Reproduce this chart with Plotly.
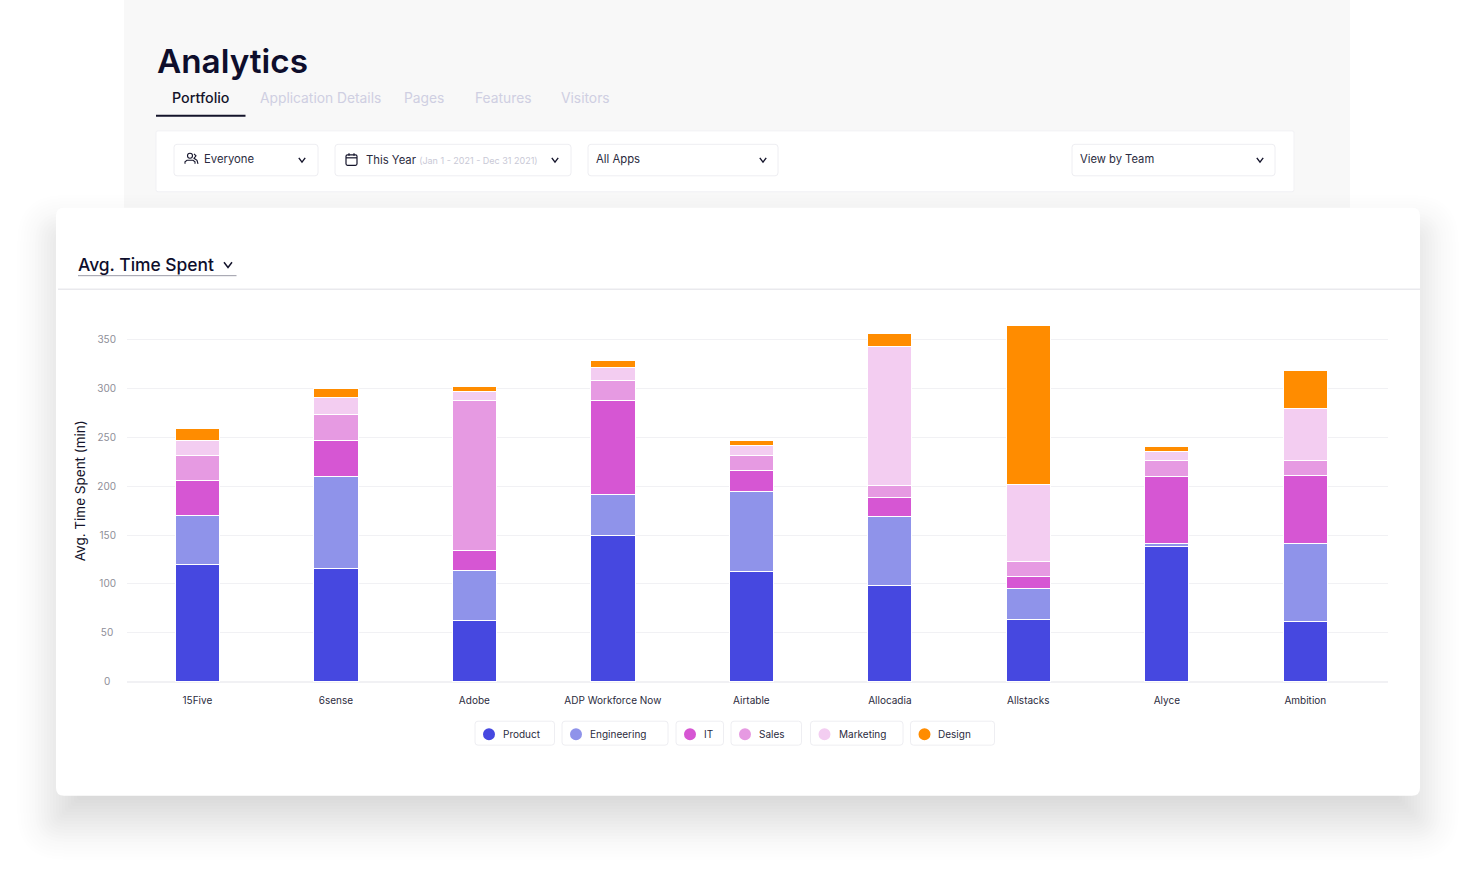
import math
import plotly.graph_objects as go

W, H = 1472, 879
PAPER_H = 874  # plotly keeps a 5px strip at the bottom of this page
apps = ["15Five", "6sense", "Adobe", "ADP Workforce Now", "Airtable", "Allocadia", "Allstacks", "Alyce", "Ambition"]
teams = ["Product", "Engineering", "IT", "Sales", "Marketing", "Design"]
colors = ["#4648E0", "#8F93EA", "#D656D3", "#E69AE2", "#F3CDF1", "#FF8C00"]
product = [119.5, 116, 63, 150, 113, 98.5, 63.5, 138.5, 62]
engineering = [50.5, 93.5, 50.5, 41.5, 81, 70.5, 32, 2.5, 79]
it = [36, 36.5, 20.5, 95.5, 21.5, 19, 12.5, 69, 69.5]
sales = [25, 27, 153, 21, 15.5, 13, 14.5, 16, 15.5]
marketing = [15, 17.5, 10, 13, 10, 141, 79, 9, 53]
design = [13, 9, 4.5, 7, 5, 13.5, 162, 5, 38.5]
series = [product, engineering, it, sales, marketing, design]
y_ticks = [0, 50, 100, 150, 200, 250, 300, 350]
# trailing no-break spaces centre the shorter labels, as in the reference
y_tick_labels = ["0\u00a0\u00a0", "50\u00a0", "100", "150", "200", "250", "300", "350"]
tabs = ["Portfolio", "Application Details", "Pages", "Features", "Visitors"]
FONT = "Inter"
INK = "#14142B"


def px(x):
    return x / W


def py(y):
    return 1 - y / PAPER_H


def rrect(x0, y0, x1, y1, r, fill, line=None, opacity=1, lw=1):
    X0, X1, Y0, Y1 = px(x0), px(x1), py(y0), py(y1)
    rx, ry = r / W, r / PAPER_H
    path = (f"M{X0+rx},{Y0} L{X1-rx},{Y0} Q{X1},{Y0} {X1},{Y0-ry} L{X1},{Y1+ry} Q{X1},{Y1} {X1-rx},{Y1} "
            f"L{X0+rx},{Y1} Q{X0},{Y1} {X0},{Y1+ry} L{X0},{Y0-ry} Q{X0},{Y0} {X0+rx},{Y0} Z")
    return dict(type="path", path=path, xref="paper", yref="paper", fillcolor=fill, opacity=opacity,
                line=dict(color=line or "rgba(0,0,0,0)", width=lw if line else 0), layer="below")


def seg(points, color, width=1.3, closed=False):
    d = "M" + " L".join(f"{px(x)},{py(y)}" for x, y in points) + (" Z" if closed else "")
    return dict(type="path", path=d, xref="paper", yref="paper",
                line=dict(color=color, width=width), layer="above")


def chevron(cx, cy, color=INK, s=3.2, width=1.4):
    return seg([(cx - s, cy - s * 0.6), (cx, cy + s * 0.7), (cx + s, cy - s * 0.6)], color, width)


def label(x, y, text, size=11, color=INK, anchor="left", weight=400, angle=0):
    return dict(x=px(x), y=py(y), xref="paper", yref="paper", text=text, showarrow=False, xanchor=anchor,
                yanchor="middle", textangle=angle, borderpad=0, borderwidth=0,
                font=dict(family=FONT, size=size, color=color, weight=weight))


shapes, annos = [], []
shapes.append(dict(type="rect", xref="paper", yref="paper", x0=px(124), x1=px(1350), y0=py(0), y1=py(240),
                   fillcolor="#F8F8F8", line=dict(width=0), layer="below"))
shapes.append(rrect(156, 131, 1294, 192, 2, "#FFFFFF", "#F1F1F4"))
for a, b in [(174, 318), (335, 571), (588, 778), (1072, 1275)]:
    shapes.append(rrect(a, 144.5, b, 176, 3, "#FFFFFF", "#EEEEF2"))
# soft card shadow: stacked translucent rounded rectangles
SIGMA, PEAK, STEP = 24, 0.175, 3
for g in range(63, -64, -STEP):
    a = PEAK * STEP * math.exp(-g * g / (2 * SIGMA * SIGMA)) / (SIGMA * math.sqrt(2 * math.pi))
    shapes.append(rrect(56 - g, 208 + 26 - g, 1420 + g, 796 + 26 + g, max(8 + g, 2), "#000000", opacity=a))
shapes.append(rrect(56, 208, 1420, 796.7, 8, "#FFFFFF"))
shapes.append(dict(type="line", xref="paper", yref="paper", x0=px(58), x1=px(1420), y0=py(289.5), y1=py(289.5),
                   line=dict(color="#DEDEE4", width=1), layer="below"))
shapes.append(dict(type="line", xref="paper", yref="paper", x0=px(78), x1=px(236.5), y0=py(276), y1=py(276),
                   line=dict(color="#9A9AA6", width=1), layer="below"))
shapes.append(dict(type="line", xref="paper", yref="paper", x0=px(156), x1=px(245.5), y0=py(116), y1=py(116),
                   line=dict(color=INK, width=2), layer="below"))

annos.append(label(157, 61.5, "Analytics", 33.3, "#0E0E2C", weight=600))
tab_x = [172, 259.5, 403.5, 475, 560.5]
for i, (t, x) in enumerate(zip(tabs, tab_x)):
    annos.append(label(x, 98, t, 14.3 if i == 0 else 13.8, INK if i == 0 else "#CFCFE2", weight=500 if i == 0 else 400))

annos.append(label(204, 159.5, "Everyone", 11.3, "#2B2B40"))
annos.append(label(365.5, 160, "This Year <span style='font-size:9px;color:#C9C9D6'>(Jan 1 - 2021 - Dec 31 2021)</span>", 11.3, "#2B2B40"))
annos.append(label(596, 159.5, "All Apps", 11.3, "#2B2B40"))
annos.append(label(1080, 159.5, "View by Team", 11.2, "#2B2B40"))
for cx, cy in [(302, 160), (555, 160), (763, 160), (1260, 160)]:
    shapes.append(chevron(cx, cy))
shapes.append(dict(type="circle", xref="paper", yref="paper", x0=px(187.5), x1=px(192.5), y0=py(153.5), y1=py(158.5),
                   line=dict(color=INK, width=1.1), layer="above"))
shapes.append(seg([(185, 164), (185, 162), (187, 160.5), (193, 160.5), (195, 162), (195, 164)], INK, 1.1))
shapes.append(seg([(194, 154), (196, 156), (194, 158.5), (197, 160.5), (198, 164)], INK, 1.1))
shapes.append(rrect(346, 155, 357, 165.5, 1.5, "rgba(0,0,0,0)", INK, lw=1.2) | {"layer": "above"})
shapes.append(seg([(346, 158), (357, 158)], INK, 1.2))
shapes.append(seg([(349, 153.5), (349, 156)], INK, 1.2))
shapes.append(seg([(354, 153.5), (354, 156)], INK, 1.2))

annos.append(label(78, 264.5, "Avg. Time Spent", 17.4, "#0E0E2C", weight=500))
shapes.append(chevron(228, 265, INK, 4, 1.5))

chips = [(475, 554.5), (562, 668), (676, 723.5), (731, 801.5), (810.5, 903), (910.5, 994.5)]
for name, col, (a, b) in zip(teams, colors, chips):
    shapes.append(rrect(a, 722, b, 746, 3, "#FFFFFF", "#EEEEF2"))
    shapes.append(dict(type="circle", xref="paper", yref="paper", x0=px(a + 8), x1=px(a + 20), y0=py(729), y1=py(741),
                       fillcolor=col, line=dict(width=0), layer="above"))
    annos.append(label(a + 28, 734.5, name, 10, "#2B2B40"))

fig = go.Figure()
for name, col, vals in zip(teams, colors, series):
    fig.add_trace(go.Bar(x=apps, y=vals, name=name, width=0.32,
                         marker=dict(color=col, line=dict(color="#FFFFFF", width=1))))

fig.update_layout(
    width=W, height=H, margin=dict(l=0, r=0, t=0, b=0), barmode="stack", showlegend=False,
    paper_bgcolor="#FFFFFF", plot_bgcolor="rgba(0,0,0,0)", shapes=shapes, annotations=annos,
    font=dict(family=FONT),
    xaxis=dict(domain=[px(127), px(1388)], range=[-0.508, 8.597], type="category", showgrid=False, zeroline=False,
               showline=False, ticks="outside", ticklen=9, tickcolor="rgba(0,0,0,0)",
               tickfont=dict(family=FONT, size=10, color="#2B2B40")),
    yaxis=dict(domain=[py(682.7), py(300)], range=[0, 390.3], tickvals=y_ticks, ticktext=y_tick_labels,
               gridcolor="#F1F1F4", gridwidth=1,
               zeroline=True, zerolinecolor="#F1F1F4", showline=False, ticks="outside", ticklen=8,
               tickcolor="rgba(0,0,0,0)", tickfont=dict(family=FONT, size=10, color="#8E8E98"),
               title=dict(text="Avg. Time Spent (min)", standoff=8, font=dict(family=FONT, size=13.5, color="#14142B"))),
)
fig.write_html("out.html", config={"displayModeBar": False},
               post_script="document.body.style.margin='0';document.body.style.overflow='hidden';")
